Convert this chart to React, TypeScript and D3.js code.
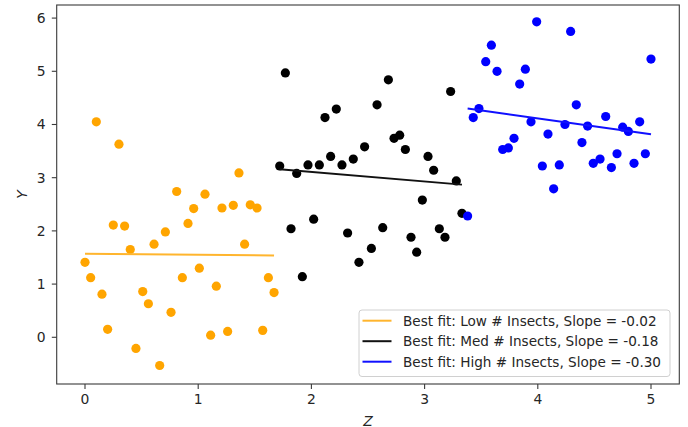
import React from "react";
import * as d3 from "d3";

const lowX = [0.0, 0.05, 0.1, 0.15, 0.2, 0.25, 0.3, 0.35, 0.4, 0.45, 0.51, 0.56, 0.61, 0.66, 0.71, 0.76, 0.81, 0.86, 0.91, 0.96, 1.01, 1.06, 1.11, 1.16, 1.21, 1.26, 1.31, 1.36, 1.41, 1.46, 1.52, 1.57, 1.62, 1.67];
const lowY = [1.41, 1.12, 4.05, 0.81, 0.15, 2.11, 3.63, 2.09, 1.65, -0.21, 0.86, 0.63, 1.75, -0.53, 1.98, 0.47, 2.74, 1.12, 2.14, 2.42, 1.3, 2.69, 0.04, 0.96, 2.43, 0.11, 2.48, 3.09, 1.75, 2.49, 2.43, 0.13, 1.12, 0.84];
const medX = [1.72, 1.77, 1.82, 1.87, 1.92, 1.97, 2.02, 2.07, 2.12, 2.17, 2.22, 2.27, 2.32, 2.37, 2.42, 2.47, 2.53, 2.58, 2.63, 2.68, 2.73, 2.78, 2.83, 2.88, 2.93, 2.98, 3.03, 3.08, 3.13, 3.18, 3.23, 3.28, 3.33];
const medY = [3.22, 4.97, 2.04, 3.08, 1.14, 3.24, 2.22, 3.24, 4.13, 3.4, 4.29, 3.24, 1.96, 3.35, 1.41, 3.58, 1.67, 4.37, 2.06, 4.84, 3.74, 3.8, 3.53, 1.88, 1.6, 2.58, 3.4, 3.14, 2.04, 1.88, 4.62, 2.94, 2.33];
const highX = [3.38, 3.43, 3.48, 3.54, 3.59, 3.64, 3.69, 3.74, 3.79, 3.84, 3.89, 3.94, 3.99, 4.04, 4.09, 4.14, 4.19, 4.24, 4.29, 4.34, 4.39, 4.44, 4.49, 4.55, 4.6, 4.65, 4.7, 4.75, 4.8, 4.85, 4.9, 4.95, 5.0];
const highY = [2.28, 4.13, 4.3, 5.18, 5.49, 5.0, 3.53, 3.56, 3.74, 4.76, 5.04, 4.05, 5.93, 3.22, 3.82, 2.79, 3.24, 4.0, 5.75, 4.37, 3.66, 3.97, 3.27, 3.35, 4.15, 3.19, 3.45, 3.95, 3.87, 3.27, 4.05, 3.45, 5.23];

// best-fit lines: [intercept, slope]
const lowFit = [1.57, -0.02];
const medFit = [3.469, -0.18];
const highFit = [5.315, -0.3];

const xTicks = [0, 1, 2, 3, 4, 5];
const yTicks = [0, 1, 2, 3, 4, 5, 6];
const legendLabels = [
  "Best fit: Low # Insects, Slope = -0.02",
  "Best fit: Med # Insects, Slope = -0.18",
  "Best fit: High # Insects, Slope = -0.30",
];

const W = 688;
const H = 427;
const L = 56.7, R = 679.3, T = 5, B = 384;
const FONT = "DejaVu Sans";

export default function App() {
  const x = d3.scaleLinear().domain([-0.25, 5.25]).range([L, R]);
  const y = d3.scaleLinear().domain([-0.878, 6.246]).range([B, T]);

  const groups = [
    { xs: lowX, ys: lowY, fit: lowFit, color: "#FFA500", lineColor: "#FFB52E" },
    { xs: medX, ys: medY, fit: medFit, color: "#000000", lineColor: "#111111" },
    { xs: highX, ys: highY, fit: highFit, color: "#0000FF", lineColor: "#1010FF" },
  ];
  const line = d3
    .line<[number, number]>()
    .x((d) => x(d[0]))
    .y((d) => y(d[1]));

  return (
    <svg
      width={W}
      height={H}
      style={{ position: "absolute", left: 0, top: 0, background: "#fff" }}
      fontFamily={FONT}
    >
      <rect x={0} y={0} width={W} height={H} fill="#fff" />
      {groups.map((g, gi) => (
        <g key={"p" + gi}>
          {g.xs.map((xv, i) => (
            <circle key={i} cx={x(xv)} cy={y(g.ys[i])} r={4.6} fill={g.color} />
          ))}
        </g>
      ))}
      {groups.map((g, gi) => {
        const x0 = d3.min(g.xs) as number;
        const x1 = d3.max(g.xs) as number;
        const pts: [number, number][] = [
          [x0, g.fit[0] + g.fit[1] * x0],
          [x1, g.fit[0] + g.fit[1] * x1],
        ];
        return (
          <path key={"l" + gi} d={line(pts) || ""} stroke={g.lineColor} strokeWidth={2} fill="none" />
        );
      })}
      {/* frame */}
      <rect x={L} y={T} width={R - L} height={B - T} fill="none" stroke="#3a3a3a" strokeWidth={1.1} />
      {/* x ticks */}
      {xTicks.map((t) => (
        <g key={"xt" + t}>
          <line x1={x(t)} x2={x(t)} y1={B} y2={B + 4.9} stroke="#3a3a3a" strokeWidth={1.1} />
          <text x={x(t)} y={404} textAnchor="middle" fontSize={13.9} fill="#262626">
            {t}
          </text>
        </g>
      ))}
      {/* y ticks */}
      {yTicks.map((t) => (
        <g key={"yt" + t}>
          <line x1={L - 4.9} x2={L} y1={y(t)} y2={y(t)} stroke="#3a3a3a" strokeWidth={1.1} />
          <text x={45.5} y={y(t) + 5} textAnchor="end" fontSize={13.9} fill="#262626">
            {t}
          </text>
        </g>
      ))}
      <text x={(L + R) / 2} y={425.5} textAnchor="middle" fontSize={13.9} fontStyle="italic" fill="#262626">
        Z
      </text>
      <text
        transform={`translate(26.5, ${(T + B) / 2}) rotate(-90)`}
        textAnchor="middle"
        fontSize={13.9}
        fontStyle="italic"
        fill="#262626"
      >
        Y
      </text>
      {/* legend */}
      <rect x={359} y={310} width={311} height={66.5} rx={3} fill="#fff" fillOpacity={0.8} stroke="#d0d0d0" strokeWidth={1} />
      {legendLabels.map((lab, i) => {
        const cy = 320.7 + i * 20.5;
        return (
          <g key={"lg" + i}>
            <line x1={362.5} x2={391.5} y1={cy} y2={cy} stroke={groups[i].lineColor} strokeWidth={2} />
            <text x={403} y={cy + 5} fontSize={13.6} fill="#262626">
              {lab}
            </text>
          </g>
        );
      })}
    </svg>
  );
}
